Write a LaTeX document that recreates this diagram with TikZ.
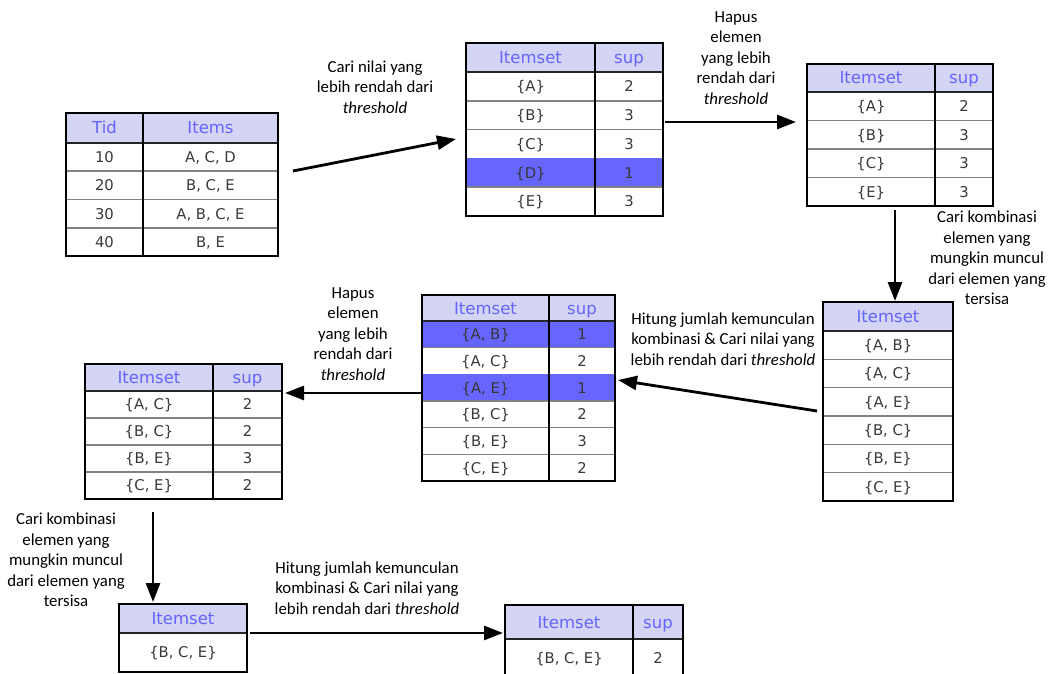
\documentclass[tikz,border=0pt]{standalone}
\usepackage{fontspec}
\setmainfont{Carlito}
\newfontfamily\tabfont{DejaVu Sans}
\usetikzlibrary{arrows.meta}
\definecolor{hdrfill}{RGB}{212,212,244}
\definecolor{hdrtext}{RGB}{100,100,255}
\definecolor{hlfill}{RGB}{102,102,255}
\definecolor{rowline}{RGB}{130,130,130}
\tikzset{
  frame/.style={draw=black, line width=2.8pt},
  sepline/.style={draw=rowline, line width=1.5pt},
  hdrline/.style={draw=black!85, line width=2.8pt},
  colline/.style={draw=black, line width=2.8pt},
  tblbox/.style={inner sep=0pt, outer sep=0pt, anchor=north west},
  hdr/.style={font=\tabfont\fontsize{16.5}{19}\selectfont, text=hdrtext, inner sep=0pt, text height=12pt, text depth=0pt},
  cell/.style={font=\tabfont\fontsize{14.8}{17}\selectfont, text=black!78, inner sep=0pt, text height=10.8pt, text depth=0pt},
  lbl/.style={font=\fontsize{16.8}{20.5}\selectfont, align=center, inner sep=0pt},
  flow/.style={draw=black, line width=2.8pt, -{Triangle[length=19pt,width=14pt]}},
}
\def\parsesix#1,#2,#3,#4,#5,#6\relax{\def\tL{#1}\def\tT{#2}\def\tR{#3}\def\tB{#4}\def\tH{#5}\def\tC{#6}}
\def\parsefive#1,#2,#3,#4,#5\relax{\def\tL{#1}\def\tT{#2}\def\tR{#3}\def\tB{#4}\def\tH{#5}}
% two-column table: name, {L,T,R,B,HB,C}, header1, header2, rows a/b/highlight
\newcommand\tabletwo[5]{%
  \parsesix#2\relax
  \foreach \ca/\cb/\hl [count=\i] in {#5} {\xdef\tN{\i}}%
  \pgfmathsetmacro\rh{(\tB-\tH)/\tN}%
  \pgfmathsetmacro\tw{\tR-\tL}%
  \pgfmathsetmacro\tht{\tB-\tT}%
  \pgfmathsetmacro\xa{(\tL+\tC)/2}%
  \pgfmathsetmacro\xb{(\tC+\tR)/2}%
  \pgfmathsetmacro\yh{(\tT+\tH)/2}%
  \fill[hdrfill] (\tL,\tT) rectangle (\tR,\tH);
  \foreach \ca/\cb/\hl [count=\i] in {#5} {%
    \pgfmathsetmacro\ya{\tH+(\i-1)*\rh}%
    \pgfmathsetmacro\yb{\tH+\i*\rh}%
    \ifnum\hl=1 \fill[hlfill] (\tL,\ya) rectangle (\tR,\yb);\fi
    \ifnum\i<\tN \draw[sepline] (\tL,\yb) -- (\tR,\yb);\fi
  }
  \draw[hdrline] (\tL,\tH) -- (\tR,\tH);
  \draw[colline] (\tC,\tT) -- (\tC,\tB);
  \node[tblbox, frame, minimum width=\tw pt, minimum height=\tht pt] (#1) at (\tL,\tT) {};
  \node[hdr] (#1-h1) at (\xa,\yh) {#3};
  \node[hdr] (#1-h2) at (\xb,\yh) {#4};
  \foreach \ca/\cb/\hl [count=\i] in {#5} {%
    \pgfmathsetmacro\yc{\tH+(\i-0.5)*\rh}%
    \node[cell] (#1-\i a) at (\xa,\yc) {\ca};
    \node[cell] (#1-\i b) at (\xb,\yc) {\cb};
  }
}
% one-column table: name, {L,T,R,B,HB}, header, rows
\newcommand\tableone[4]{%
  \parsefive#2\relax
  \foreach \ca [count=\i] in {#4} {\xdef\tN{\i}}%
  \pgfmathsetmacro\rh{(\tB-\tH)/\tN}%
  \pgfmathsetmacro\tw{\tR-\tL}%
  \pgfmathsetmacro\tht{\tB-\tT}%
  \pgfmathsetmacro\xa{(\tL+\tR)/2}%
  \pgfmathsetmacro\yh{(\tT+\tH)/2}%
  \fill[hdrfill] (\tL,\tT) rectangle (\tR,\tH);
  \foreach \ca [count=\i] in {#4} {%
    \pgfmathsetmacro\yb{\tH+\i*\rh}%
    \ifnum\i<\tN \draw[sepline] (\tL,\yb) -- (\tR,\yb);\fi
  }
  \draw[hdrline] (\tL,\tH) -- (\tR,\tH);
  \node[tblbox, frame, minimum width=\tw pt, minimum height=\tht pt] (#1) at (\tL,\tT) {};
  \node[hdr] (#1-h1) at (\xa,\yh) {#3};
  \foreach \ca [count=\i] in {#4} {%
    \pgfmathsetmacro\yc{\tH+(\i-0.5)*\rh}%
    \node[cell] (#1-\i a) at (\xa,\yc) {\ca};
  }
}
\begin{document}
\begin{tikzpicture}[x=1pt, y=-1pt]
\useasboundingbox (0,0) rectangle (1050,674);
\clip (0,0) rectangle (1050,674);

\tabletwo{T1}{66,113,278,256,143,143}{Tid}{Items}{10/{A, C, D}/0, 20/{B, C, E}/0, 30/{A, B, C, E}/0, 40/{B, E}/0}
\tabletwo{T2}{466,43,663,216,72,595}{Itemset}{sup}{{\{A\}}/2/0, {\{B\}}/3/0, {\{C\}}/3/0, {\{D\}}/1/1, {\{E\}}/3/0}
\tabletwo{T3}{807,64,993,206,92,935}{Itemset}{sup}{{\{A\}}/2/0, {\{B\}}/3/0, {\{C\}}/3/0, {\{E\}}/3/0}
\tableone{T4}{823,302,953,501,331}{Itemset}{{\{A, B\}}, {\{A, C\}}, {\{A, E\}}, {\{B, C\}}, {\{B, E\}}, {\{C, E\}}}
\tabletwo{T5}{422,295,615,481,321,549}{Itemset}{sup}{{\{A, B\}}/1/1, {\{A, C\}}/2/0, {\{A, E\}}/1/1, {\{B, C\}}/2/0, {\{B, E\}}/3/0, {\{C, E\}}/2/0}
\tabletwo{T6}{85,364,282,499,391,213}{Itemset}{sup}{{\{A, C\}}/2/0, {\{B, C\}}/2/0, {\{B, E\}}/3/0, {\{C, E\}}/2/0}
\tableone{T7}{119,604,247,672,633}{Itemset}{{\{B, C, E\}}}
\tabletwo{T8}{505,605,683,677,639,633}{Itemset}{sup}{{\{B, C, E\}}/2/0}

% labels
\node[lbl] (L1) at (375,87) {Cari nilai yang\\lebih rendah dari\\\textit{threshold}};
\node[lbl] (L2) at (736,58) {Hapus\\elemen\\yang lebih\\rendah dari\\\textit{threshold}};
\node[lbl] (L3) at (987,258) {Cari kombinasi\\elemen yang\\mungkin muncul\\dari elemen yang\\tersisa};
\node[lbl] (L4) at (723,339) {Hitung jumlah kemunculan\\kombinasi \& Cari nilai yang\\lebih rendah dari \textit{threshold}};
\node[lbl] (L5) at (353,334) {Hapus\\elemen\\yang lebih\\rendah dari\\\textit{threshold}};
\node[lbl] (L6) at (66,560) {Cari kombinasi\\elemen yang\\mungkin muncul\\dari elemen yang\\tersisa};
\node[lbl] (L7) at (367,588) {Hitung jumlah kemunculan\\kombinasi \& Cari nilai yang\\lebih rendah dari \textit{threshold}};

% connector end points
\coordinate (a1s) at (293,171);  \coordinate (a1e) at (456,139);
\coordinate (a2s) at (665,122);  \coordinate (a2e) at (796,122);
\coordinate (a3s) at (895,210);  \coordinate (a3e) at (895,301);
\coordinate (a4s) at (817,411);  \coordinate (a4e) at (618,380);
\coordinate (a5s) at (421,393);  \coordinate (a5e) at (285,393);
\coordinate (a6s) at (153,512);  \coordinate (a6e) at (153,602);
\coordinate (a7s) at (250,633);  \coordinate (a7e) at (503,633);

\draw[flow] (a1s) -- (a1e);
\draw[flow] (a2s) -- (a2e);
\draw[flow] (a3s) -- (a3e);
\draw[flow] (a4s) -- (a4e);
\draw[flow] (a5s) -- (a5e);
\draw[flow] (a6s) -- (a6e);
\draw[flow] (a7s) -- (a7e);
\end{tikzpicture}
\end{document}
